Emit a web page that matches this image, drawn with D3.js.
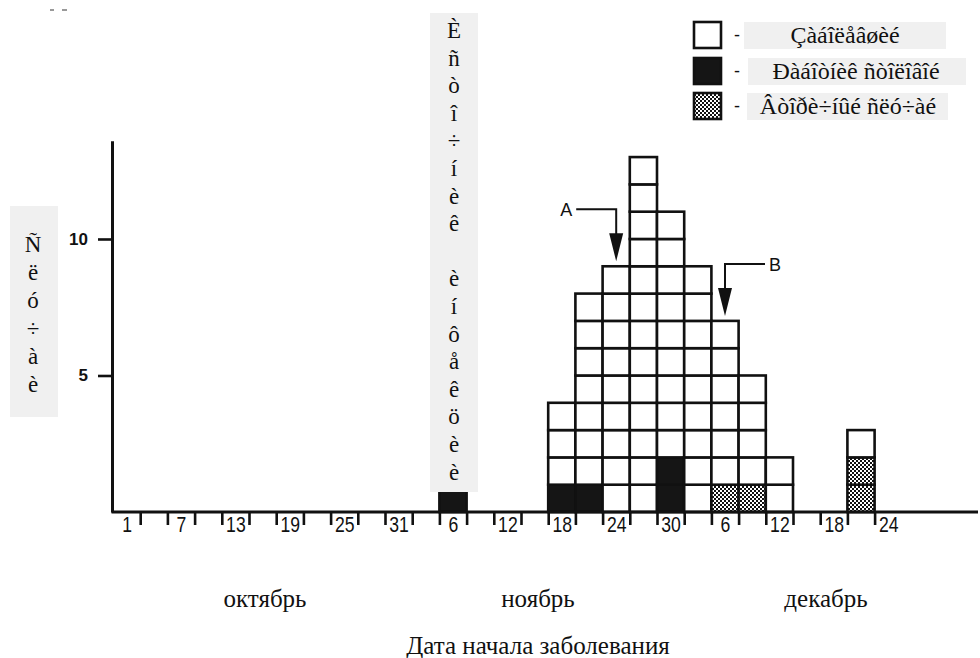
<!DOCTYPE html>
<html><head><meta charset="utf-8">
<script src="https://cdn.jsdelivr.net/npm/d3@7"></script>
<style>body{margin:0;background:#fff}svg{display:block}</style>
</head><body><svg id="c" width="980" height="658"></svg>
<script>
// ---- data ----
const columnStartDay = [36, 48, 51, 54, 57, 60, 63, 66, 69, 72, 81]; // days since 1 Oct, 3-day columns
const casesOther     = [0, 3, 7, 9, 13, 9, 9, 6, 4, 2, 1];
const casesCanteen   = [1, 1, 1, 0, 0, 2, 0, 0, 0, 0, 0];
const casesSecondary = [0, 0, 0, 0, 0, 0, 0, 1, 1, 0, 2];
const tickLabels = ["1","7","13","19","25","31","6","12","18","24","30","6","12","18","24"];
const monthLabels = ["октябрь","ноябрь","декабрь"];
const yTicks = [5, 10];
const legendLabels = ["Çàáîëåâøèé","Ðàáîòíèê ñòîëîâîé","Âòîðè÷íûé ñëó÷àé"];
const sourceLabel = "Èñòî÷íèê èíôåêöèè";
const yLabel = "Ñëó÷àè";
const xTitle = "Дата начала заболевания";
const arrowLabels = ["A","B"];
const arrowDays = [54, 66];

// ---- layout ----
const svg = d3.select("#c");
const x = d3.scaleLinear().domain([0, 90]).range([113, 929]);
const y = d3.scaleLinear().domain([0, 13.6]).range([512, 140.7]);
const INK = "#111";

const defs = svg.append("defs");
const pat = defs.append("pattern").attr("id","hatch").attr("patternUnits","userSpaceOnUse")
  .attr("width",4).attr("height",4);
pat.append("rect").attr("width",4).attr("height",4).attr("fill","#fff");
pat.append("rect").attr("width",2).attr("height",2).attr("fill","#111");
pat.append("rect").attr("x",2).attr("y",2).attr("width",2).attr("height",2).attr("fill","#111");

// top-left stray marks
svg.append("line").attr("x1",50).attr("x2",54).attr("y1",10).attr("y2",10).attr("stroke","#777").attr("stroke-width",1.5);
svg.append("line").attr("x1",62).attr("x2",67).attr("y1",10).attr("y2",10).attr("stroke","#777").attr("stroke-width",1.5);

// cells
const cells = [];
columnStartDay.forEach((d, i) => {
  let k = 0;
  for (let j = 0; j < casesCanteen[i]; j++) cells.push({d, k: k++, fill: "#151515"});
  for (let j = 0; j < casesSecondary[i]; j++) cells.push({d, k: k++, fill: "url(#hatch)"});
  for (let j = 0; j < casesOther[i]; j++) cells.push({d, k: k++, fill: "#fff"});
});
svg.append("g").selectAll("rect").data(cells).join("rect")
  .attr("x", c => x(c.d)).attr("width", c => x(c.d + 3) - x(c.d))
  .attr("y", c => y(c.k + 1)).attr("height", c => y(c.k) - y(c.k + 1))
  .attr("fill", c => c.fill).attr("stroke", INK).attr("stroke-width", 2.6);

// x axis with boundary ticks
const xEnd = 978;
const boundaries = d3.range(3, 85, 3);
const gx = svg.append("g").attr("transform", `translate(0,${y(0)})`)
  .call(d3.axisBottom(x).tickValues(boundaries).tickSize(13).tickSizeOuter(0).tickFormat(""));
gx.select(".domain").remove();
gx.selectAll(".tick line").attr("stroke", INK).attr("stroke-width", 2.6);
svg.append("line").attr("x1", x(0) - 1.5).attr("x2", xEnd).attr("y1", y(0)).attr("y2", y(0))
  .attr("stroke", INK).attr("stroke-width", 3);

// x labels at alternate column centres
const labelDays = tickLabels.map((t, i) => i * 6 + 1.5);
const gl = svg.append("g").attr("transform", `translate(0,${y(0)})`)
  .call(d3.axisBottom(x).tickValues(labelDays).tickSize(0).tickPadding(4)
    .tickFormat((d, i) => tickLabels[i]));
gl.select(".domain").remove();
gl.selectAll("text").attr("font-family", "'Liberation Sans', Arial, sans-serif")
  .attr("font-size", 22).attr("fill", INK).attr("transform", "scale(0.8,1)");

// y axis
const gy = svg.append("g").attr("transform", `translate(${x(0) - 1},0)`)
  .call(d3.axisLeft(y).tickValues(yTicks).tickSize(14).tickSizeOuter(0).tickPadding(10));
gy.select(".domain").attr("stroke", INK).attr("stroke-width", 3);
gy.selectAll(".tick line").attr("stroke", INK).attr("stroke-width", 2.6);
gy.selectAll("text").attr("font-family", "'Liberation Sans', Arial, sans-serif")
  .attr("font-size", 17).attr("font-weight", "bold").attr("fill", INK);

// vertical "source" label (drawn above bars)
const srcChars = sourceLabel.split("");
svg.append("rect").attr("x", 430).attr("y", 13).attr("width", 48).attr("height", 479).attr("fill", "#f0f0f0");
svg.append("g").selectAll("text").data(srcChars).join("text")
  .attr("x", 454).attr("y", (c, i) => 38 + i * 27.6).attr("text-anchor", "middle")
  .attr("font-family", "'Liberation Serif', 'Times New Roman', serif").attr("font-size", 23)
  .attr("fill", INK).text(c => c);

// y label
svg.append("rect").attr("x", 10).attr("y", 206).attr("width", 48).attr("height", 211).attr("fill", "#f0f0f0");
svg.append("g").selectAll("text").data(yLabel.split("")).join("text")
  .attr("x", 33).attr("y", (c, i) => 252 + i * 28).attr("text-anchor", "middle")
  .attr("font-family", "'Liberation Serif', 'Times New Roman', serif").attr("font-size", 23)
  .attr("fill", INK).text(c => c);

// arrows
arrowDays.forEach((d, i) => {
  const cx = x(d + 1.5);
  const idx = columnStartDay.indexOf(d);
  const top = y(casesOther[idx] + casesCanteen[idx] + casesSecondary[idx]);
  const tip = top - 5;
  const hy = tip - 52;
  const dir = i === 0 ? -1 : 1;
  const g = svg.append("g");
  g.append("path").attr("d", `M${cx + dir * 40},${hy} H${cx} V${tip - 26}`)
    .attr("fill", "none").attr("stroke", INK).attr("stroke-width", 2);
  g.append("path").attr("d", `M${cx - 7},${tip - 28} L${cx + 7},${tip - 28} L${cx},${tip} Z`).attr("fill", INK);
  g.append("text").attr("x", cx + dir * 50).attr("y", hy + 7).attr("text-anchor", "middle")
    .attr("font-family", "'Liberation Sans', Arial, sans-serif").attr("font-size", 18)
    .attr("fill", INK).text(arrowLabels[i]);
});

// legend
const legFills = ["#fff", "#151515", "url(#hatch)"];
const legY = [22, 58, 93];
const boxX = [744, 748, 747], boxW = [202, 218, 201];
const textX = [845, 856, 848];
legendLabels.forEach((t, i) => {
  svg.append("rect").attr("x", 694).attr("y", legY[i]).attr("width", 27).attr("height", 26)
    .attr("fill", legFills[i]).attr("stroke", INK).attr("stroke-width", 2.6);
  svg.append("text").attr("x", 737).attr("y", legY[i] + 19).attr("text-anchor", "middle")
    .attr("font-family", "'Liberation Sans', Arial, sans-serif").attr("font-size", 18).attr("fill", INK).text("-");
  svg.append("rect").attr("x", boxX[i]).attr("y", legY[i]).attr("width", boxW[i]).attr("height", 27).attr("fill", "#f0f0f0");
  svg.append("text").attr("x", textX[i]).attr("y", legY[i] + 21).attr("text-anchor", "middle")
    .attr("font-family", "'Liberation Serif', 'Times New Roman', serif").attr("font-size", 24)
    .attr("fill", INK).text(t);
});

// month labels and title
const monthX = [265, 538, 826];
svg.append("g").selectAll("text").data(monthLabels).join("text")
  .attr("x", (m, i) => monthX[i]).attr("y", 607).attr("text-anchor", "middle")
  .attr("font-family", "'Liberation Serif', 'Times New Roman', serif").attr("font-size", 25)
  .attr("fill", INK).text(m => m);
svg.append("text").attr("x", 538).attr("y", 654).attr("text-anchor", "middle")
  .attr("font-family", "'Liberation Serif', 'Times New Roman', serif").attr("font-size", 25)
  .attr("fill", INK).text(xTitle);
</script></body></html>
